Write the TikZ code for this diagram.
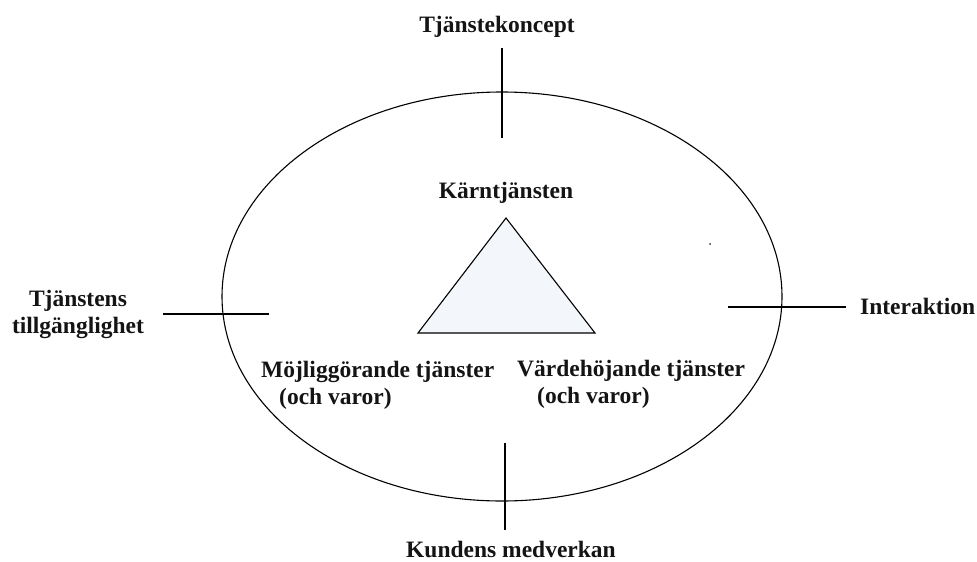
\documentclass[tikz,border=0pt]{standalone}
\usepackage{fontspec}
\setmainfont{Liberation Serif}
\usetikzlibrary{shapes.geometric}
\begin{document}
\begin{tikzpicture}[x=1pt,y=-1pt,
  lbl/.style={inner sep=0pt,font=\fontsize{23.5}{26.5}\selectfont\bfseries,text=black!92},
  ln/.style={draw=black,line width=1.1pt},
  tri/.style={draw=black,line width=1.1pt,fill={rgb,255:red,243;green,247;blue,251},line join=miter}]
\useasboundingbox (0,0) rectangle (977,562);
% ellipse
\node[ellipse,draw=black,line width=1.1pt,minimum width=560pt,minimum height=409pt,inner sep=0pt] (oval) at (502,296.5) {};
% triangle
\coordinate (apex) at (506,218);
\coordinate (bl) at (418,333);
\coordinate (br) at (595,333);
\draw[tri] (apex) -- (br) -- (bl) -- cycle;
% crossing ticks
\coordinate (t1) at (502,48);  \coordinate (t2) at (502,138);
\coordinate (b1) at (505,443); \coordinate (b2) at (505,530);
\coordinate (l1) at (163,314); \coordinate (l2) at (269,314);
\coordinate (r1) at (728,307); \coordinate (r2) at (846,307);
\draw[ln] (t1) -- (t2);
\draw[ln] (b1) -- (b2);
\draw[ln] (l1) -- (l2);
\draw[ln] (r1) -- (r2);
% stray dot
\fill[black!80] (710,244) circle (1pt);
% labels
\node[lbl,anchor=base] (koncept) at (497,32) {Tjänstekoncept};
\node[lbl,anchor=base] (karn) at (506,198) {Kärntjänsten};
\node[lbl,anchor=base,align=center] (tillg) at (78,333) {Tjänstens\\tillgänglighet};
\node[lbl,anchor=base west] (inter) at (860,314) {Interaktion};
\node[lbl,anchor=base] (kund) at (511,557) {Kundens medverkan};
\node[lbl,anchor=base west,align=left] (mojl) at (261,404) {Möjliggörande tjänster\\\hspace*{18pt}(och varor)};
\node[lbl,anchor=base west,align=left] (vard) at (517,403) {Värdehöjande tjänster\\\hspace*{20pt}(och varor)};
\end{tikzpicture}
\end{document}
